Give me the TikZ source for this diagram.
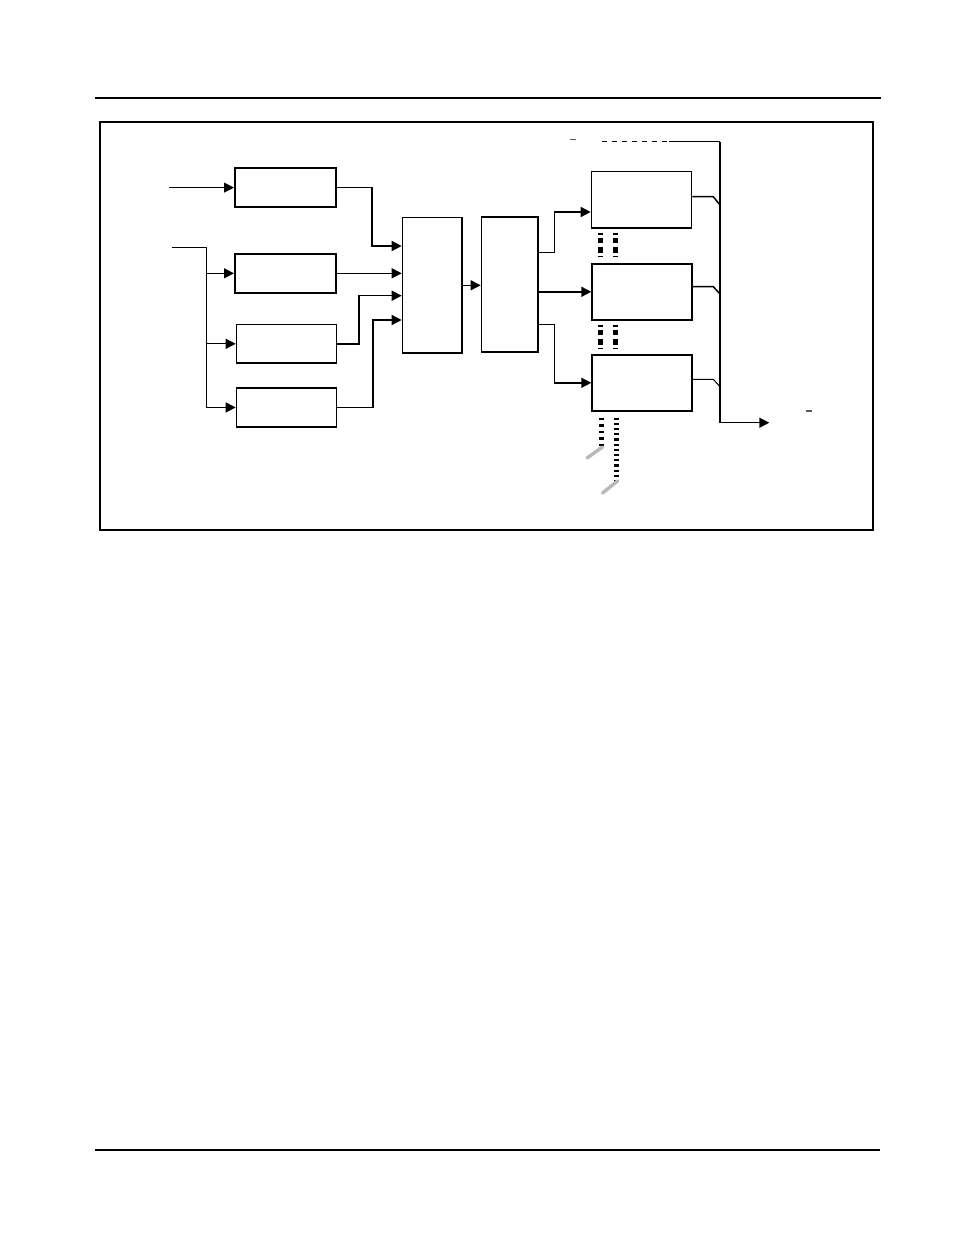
\documentclass[tikz,border=0pt]{standalone}
\usetikzlibrary{arrows.meta,calc}
\begin{document}
\begin{tikzpicture}[x=1pt,y=-1pt,
  box/.style={draw,line width=1.6pt,rectangle,inner sep=0pt,anchor=north west},
  conn/.style={line width=1.5pt},
  thinconn/.style={line width=1pt},
  tip/.style={-{Triangle[length=10pt,width=10pt]}},
  dots/.style={line width=5pt,dash pattern=on 2pt off 3pt on 5pt off 4pt on 6pt off 3.5pt on 2pt off 20pt},
  slash/.style={line width=3.5pt,color=black!27,line cap=round},
  smallmark/.style={line width=1.2pt,color=black!65}]
\useasboundingbox (0,0) rectangle (954,1235);
% page rules
\draw[line width=1.3pt] (95,98) -- (881,98);
\draw[line width=1.3pt] (95,1150) -- (880,1150);
% frame
\draw[line width=2.2pt] (100,122) rectangle (873,530);
% boxes
\node[box,minimum width=101pt,minimum height=39pt] (A) at (234,167.3) {};
\node[box,minimum width=101pt,minimum height=39pt] (B) at (234,253) {};
\node[box,minimum width=100pt,minimum height=38.6pt] (C) at (235.7,323.7) {};
\node[box,minimum width=100pt,minimum height=39.3pt] (D) at (235.7,387) {};
\node[box,minimum width=59.6pt,minimum height=135.6pt] (M) at (401.7,216.7) {};
\node[box,minimum width=56.6pt,minimum height=135pt] (N) at (480.7,216.3) {};
\node[box,minimum width=100pt,minimum height=56.3pt] (P1) at (590.7,170.7) {};
\node[box,minimum width=100pt,minimum height=56pt] (P2) at (591.3,263) {};
\node[box,minimum width=100pt,minimum height=56pt] (P3) at (591.3,354) {};
% inputs
\coordinate (inA) at (169,186.7);
\coordinate (inF) at (172,247.3);
\coordinate (fx) at (206.7,247.3);
\draw[thinconn,tip] (inA |- A.west) -- (A.west);
\draw[conn] (inF) -- (fx);
\draw[conn,tip] (fx) |- (D.west);
\draw[thinconn,tip] (fx |- B.west) -- (B.west);
\draw[thinconn,tip] (fx |- C.west) -- (C.west);
% to mux
\draw[conn,tip] (A.east) -| ($(M.north west)+(-29.7,29.3)$) -- ($(M.north west)+(0,29.3)$);
\draw[thinconn,tip] (B.east) -- (M.west |- B.east);
\draw[conn,tip] (C.east) -| ($(M.north west)+(-42.7,79)$) -- ($(M.north west)+(0,79)$);
\draw[conn,tip] (D.east) -| ($(M.north west)+(-28.7,103.3)$) -- ($(M.north west)+(0,103.3)$);
% mux to N
\draw[thinconn,tip] (M.east) -- (N.west |- M.east);
% N to P
\draw[conn,tip] ($(N.north east)+(0,36.4)$) -| ($(P1.north west)+(-36.4,41.3)$) -- ($(P1.north west)+(0,41.3)$);
\draw[conn,tip] (N.east |- P2.west) -- (P2.west);
\draw[conn,tip] ($(N.north east)+(0,108)$) -| ($(P3.west)+(-37,0)$) -- (P3.west);
% bus
\coordinate (bt) at (720,141.7);
\coordinate (bb) at (720,422.7);
\coordinate (bend) at (769.3,422.7);
\coordinate (dstart) at (601.7,141.7);
\coordinate (dend) at (669.3,141.7);
\draw[thinconn,dash pattern=on 5pt off 5pt] (dstart) -- (dend);
\draw[thinconn] (dend) -- (bt);
\draw[conn] (bt) -- (bb);
\draw[conn,tip] (bb) -- (bend);
% P outputs
\draw[conn] ($(P1.north east)+(0,26)$) -- ++(21,0) -- ($(bt)+(0,63.3)$);
\draw[conn] ($(P2.north east)+(0,23.7)$) -- ++(20.4,0) -- ($(bt)+(0,152.3)$);
\draw[thinconn] ($(P3.north east)+(0,25.3)$) -- ++(20.4,0) -- ($(bt)+(0,245)$);
% dotted links
\draw[dots] ($(P1.south west)+(10.1,4)$) -- ($(P2.north west)+(9.5,-6)$);
\draw[dots] ($(P1.south west)+(24.5,4)$) -- ($(P2.north west)+(23.9,-6)$);
\draw[dots] ($(P2.south west)+(9.5,4)$) -- ($(P3.north west)+(9.5,-5)$);
\draw[dots] ($(P2.south west)+(23.9,4)$) -- ($(P3.north west)+(23.9,-5)$);
\draw[line width=5pt,dash pattern=on 2.5pt off 4pt] ($(P3.south west)+(10.1,6)$) -- ($(P3.south west)+(10.1,37)$);
\draw[line width=5pt,dash pattern=on 2.2pt off 3pt] ($(P3.south west)+(25,6)$) -- ($(P3.south west)+(25,70)$);
% grey slashes
\draw[slash] (587,458) -- (602.5,447);
\draw[slash] (602.5,493) -- (617.5,481);
% small marks
\draw[smallmark] (570,139.3) -- (576.3,139.3);
\draw[smallmark] (806,411) -- (812,411);
\end{tikzpicture}
\end{document}
